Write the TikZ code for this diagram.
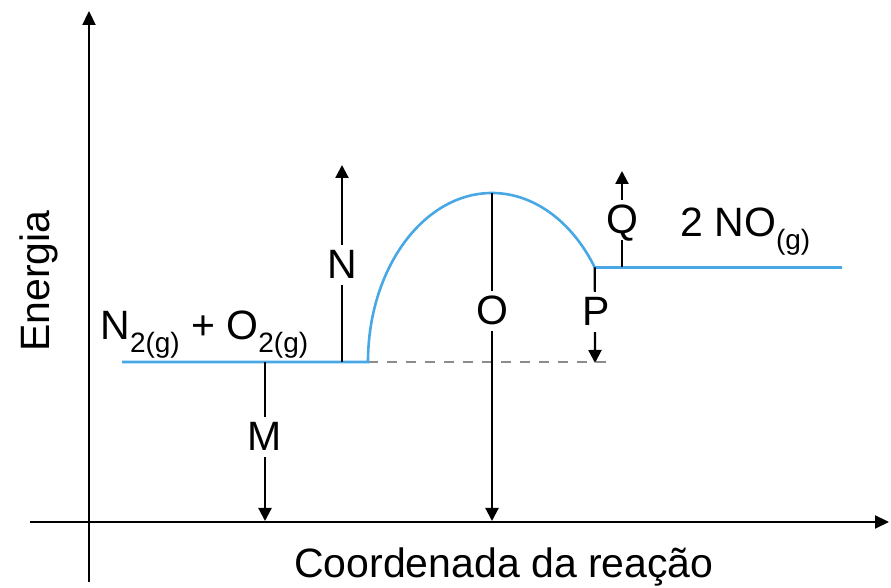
\documentclass[tikz,border=0pt]{standalone}
\usepackage{fontspec}
\setmainfont{Liberation Sans}
\usetikzlibrary{arrows.meta}
\definecolor{curveblue}{RGB}{72,168,230}
\definecolor{dashgray}{RGB}{140,140,140}
\newcommand{\chemsub}[1]{\raisebox{-6.5pt}{\fontsize{14pt}{16pt}\selectfont #1}}
\tikzset{
  axisline/.style={line width=1.1pt,-{Triangle[length=7pt,width=6.5pt]}},
  valarrow/.style={line width=1.1pt,-{Triangle[length=6.5pt,width=6.5pt]}},
  vallabel/.style={fill=white,inner sep=2.5pt,text height=14.5pt,text depth=0.5pt,font=\fontsize{20.5pt}{24pt}\selectfont},
  txt/.style={inner sep=0pt,font=\fontsize{20.5pt}{24pt}\selectfont},
  energyline/.style={draw=curveblue,line width=1.3pt},
  baseline dash/.style={draw=dashgray,line width=0.9pt,dash pattern=on 5pt off 4.5pt}
}
\begin{document}
\begin{tikzpicture}[x=0.5pt,y=0.5pt]
\useasboundingbox (0,0) rectangle (891,588);
% axes
\coordinate (yb) at (89,6);
\coordinate (yt) at (89,577);
\coordinate (xl) at (30,66);
\coordinate (xr) at (889,66);
\draw[axisline] (yb) -- (yt);
\draw[axisline] (xl) -- (xr);
\node[txt,rotate=90] (ylab) at (39,307) {Energia};
\node[txt] (xlab) at (504,21) {Coordenada da reação};
% energy profile
\coordinate (l0) at (122,226);
\coordinate (l1) at (368,226);
\coordinate (peak) at (492,395);
\coordinate (r0) at (594.8,320.5);
\coordinate (r1) at (842,320.5);
\draw[baseline dash] (l1) -- (612,226);
\draw[energyline] (l0) -- (l1) arc[start angle=180,end angle=34,x radius=124,y radius=169] -- (r1);
% M
\coordinate (mb) at (265,226);
\coordinate (mt) at (265,67);
\draw[valarrow] (mb) -- (mt);
\node[vallabel] (M) at (265,151) {M};
% N
\coordinate (nb) at (342,226);
\coordinate (nt) at (342,423);
\draw[valarrow] (nb) -- (nt);
\node[vallabel] (N) at (342,323) {N};
% O
\coordinate (ot) at (492,67);
\draw[valarrow] (peak) -- (ot);
\node[vallabel] (O) at (492,277) {O};
% P
\coordinate (pb) at (595,225);
\draw[valarrow] (r0) -- (pb);
\node[vallabel] (P) at (596,276) {P};
% Q
\coordinate (qb) at (622,320.5);
\coordinate (qt) at (622,417);
\draw[valarrow] (qb) -- (qt);
\node[vallabel] (Q) at (622,368) {Q};
% species
\node[txt,anchor=base west] (react) at (100,248) {N\chemsub{2(g)} + O\chemsub{2(g)}};
\node[txt,anchor=base west] (prod) at (680,351) {2 NO\chemsub{(g)}};
\end{tikzpicture}
\end{document}
